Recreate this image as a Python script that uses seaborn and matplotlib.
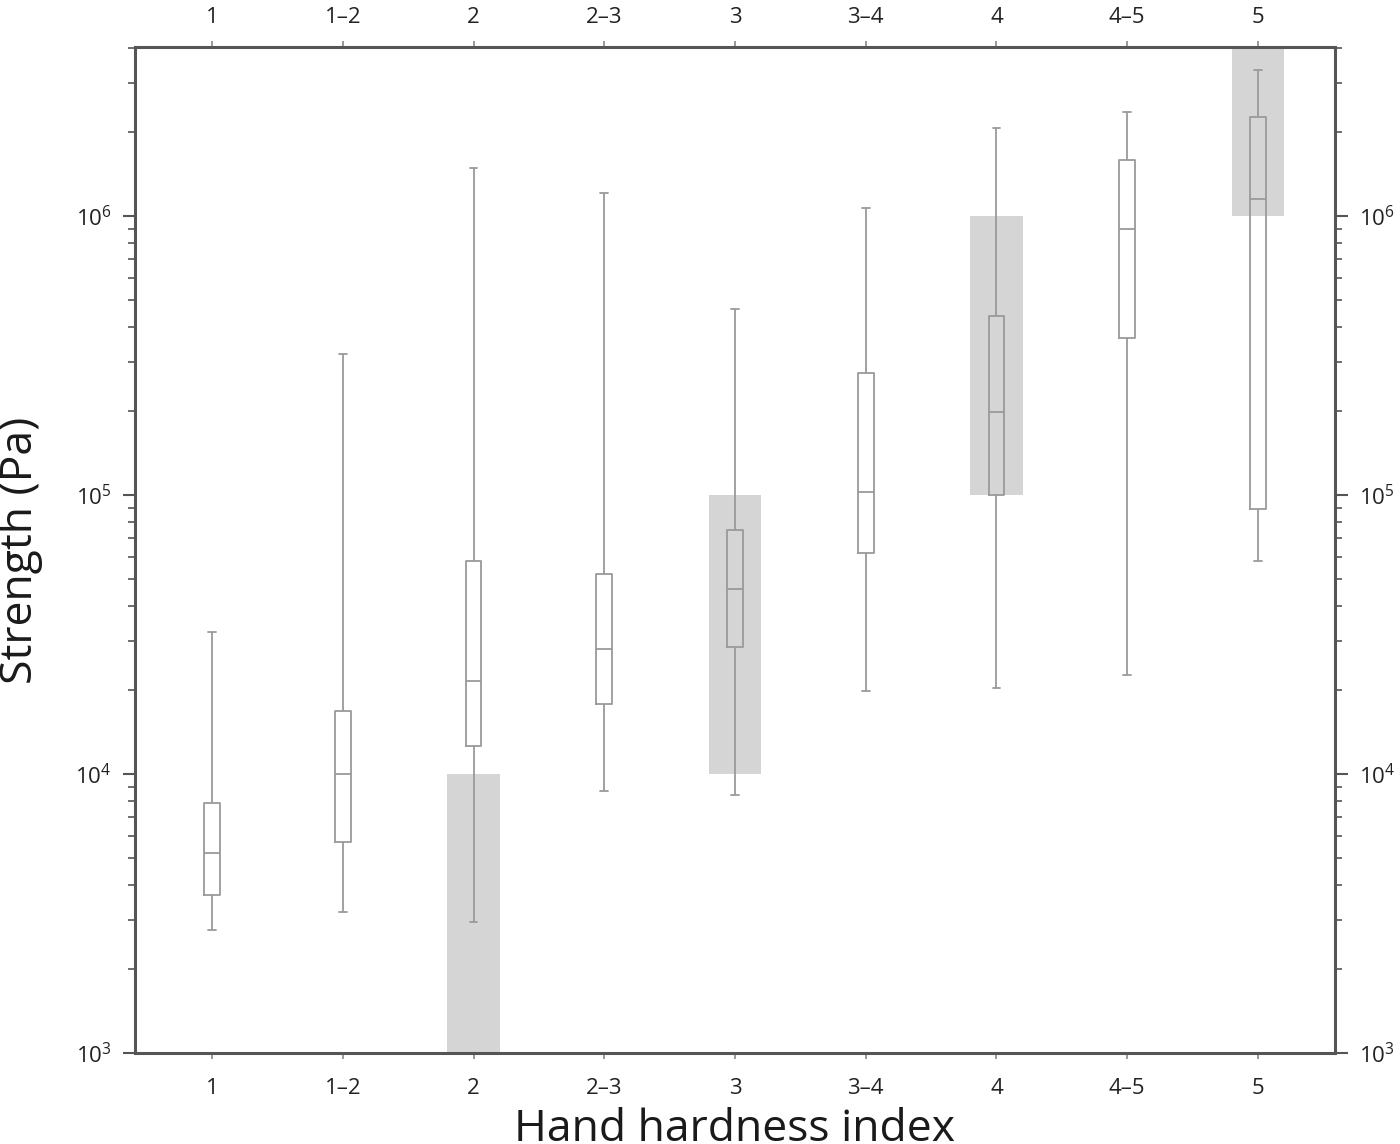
import pandas as pd
import numpy as np
import matplotlib
matplotlib.use('Agg')
import matplotlib.pyplot as plt
import seaborn as sns

# ==============================================================================
# Data (five-number summary per hardness class)
# ==============================================================================
categories = ['1', '1–2', '2', '2–3', '3', '3–4', '4', '4–5', '5']

whisker_low = [2.75e3, 3.2e3, 2.95e3, 8.7e3, 8.4e3, 1.98e4, 2.03e4, 2.26e4, 5.8e4]
box_low     = [3.7e3, 5.7e3, 1.26e4, 1.78e4, 2.85e4, 6.2e4, 1.0e5, 3.65e5, 8.9e4]
median      = [5.2e3, 1.0e4, 2.15e4, 2.8e4, 4.6e4, 1.03e5, 1.98e5, 9.0e5, 1.15e6]
box_high    = [7.9e3, 1.68e4, 5.8e4, 5.2e4, 7.5e4, 2.74e5, 4.38e5, 1.59e6, 2.26e6]
whisker_high = [3.23e4, 3.2e5, 1.49e6, 1.21e6, 4.64e5, 1.07e6, 2.07e6, 2.36e6, 3.34e6]

# Shaded hand-hardness strength ranges
band_cats = ['2', '3', '4', '5']
band_low = [1e3, 1e4, 1e5, 1e6]
band_high = [1e4, 1e5, 1e6, 1e7]

# long form: the five values per class give exactly these quartiles / whiskers
rows = []
for i, c in enumerate(categories):
    for v in (whisker_low[i], box_low[i], median[i], box_high[i], whisker_high[i]):
        rows.append({'Hardness': c, 'Strength': v})
df = pd.DataFrame(rows)

# ==============================================================================
# Plot
# ==============================================================================
sns.set_style('ticks')
plt.rcParams['font.family'] = ['Open Sans', 'DejaVu Sans']
plt.rcParams['mathtext.fontset'] = 'custom'
plt.rcParams['mathtext.rm'] = 'Open Sans'
plt.rcParams['mathtext.it'] = 'Open Sans'

fig = plt.figure(figsize=(14, 11.44), dpi=100)
ax = fig.add_axes([135 / 1400, 91 / 1144, 1200 / 1400, 1006 / 1144])

line_col = '#9a9a9a'
sns.boxplot(data=df, x='Hardness', y='Strength', order=categories, ax=ax,
            log_scale=True, whis=(0, 100), width=0.12, fill=False,
            color=line_col, linecolor=line_col, linewidth=1.3,
            showfliers=False)

band_pos = [categories.index(c) for c in band_cats]
ax.bar(band_pos, np.array(band_high) - np.array(band_low), bottom=band_low,
       width=0.4, color='#d5d5d5', zorder=0, linewidth=0)

ax.set_xlim(-0.59, 8.59)
ax.set_ylim(1e3, 4.04e6)
ax.set_yticks([1e3, 1e4, 1e5, 1e6])
ax.set_yticklabels([r'$10^{3}$', r'$10^{4}$', r'$10^{5}$', r'$10^{6}$'])

for s in ax.spines.values():
    s.set_visible(True)
    s.set_color('#555555')
    s.set_linewidth(2.2)

ax.tick_params(axis='x', which='major', top=False, bottom=True,
               labelbottom=True, direction='out', length=4, width=1.2,
               color='#888888', labelsize=16, pad=14, labelcolor='#222222')
ax.tick_params(axis='y', which='major', left=True, right=True, labelleft=True,
               labelright=True, direction='out', length=9, width=1.5,
               color='#555555', labelsize=16, pad=8, labelcolor='#222222')
ax.tick_params(axis='y', which='minor', left=True, right=True,
               direction='out', length=5, width=1.2, color='#555555')

# top axis repeats the categories
top = ax.secondary_xaxis('top')
top.set_xticks(range(len(categories)), categories)
top.spines['top'].set_visible(False)
top.tick_params(axis='x', direction='out', length=4, width=1.2,
                color='#888888', labelsize=16, pad=10, labelcolor='#222222')

ax.set_ylabel('Strength (Pa)', fontsize=32, color='#1a1a1a')
ax.yaxis.set_label_coords(-0.077, 0.5)
ax.set_xlabel('Hand hardness index', fontsize=32, color='#1a1a1a')
ax.xaxis.set_label_coords(0.5, -0.054)

fig.savefig('out.png', dpi=100)
